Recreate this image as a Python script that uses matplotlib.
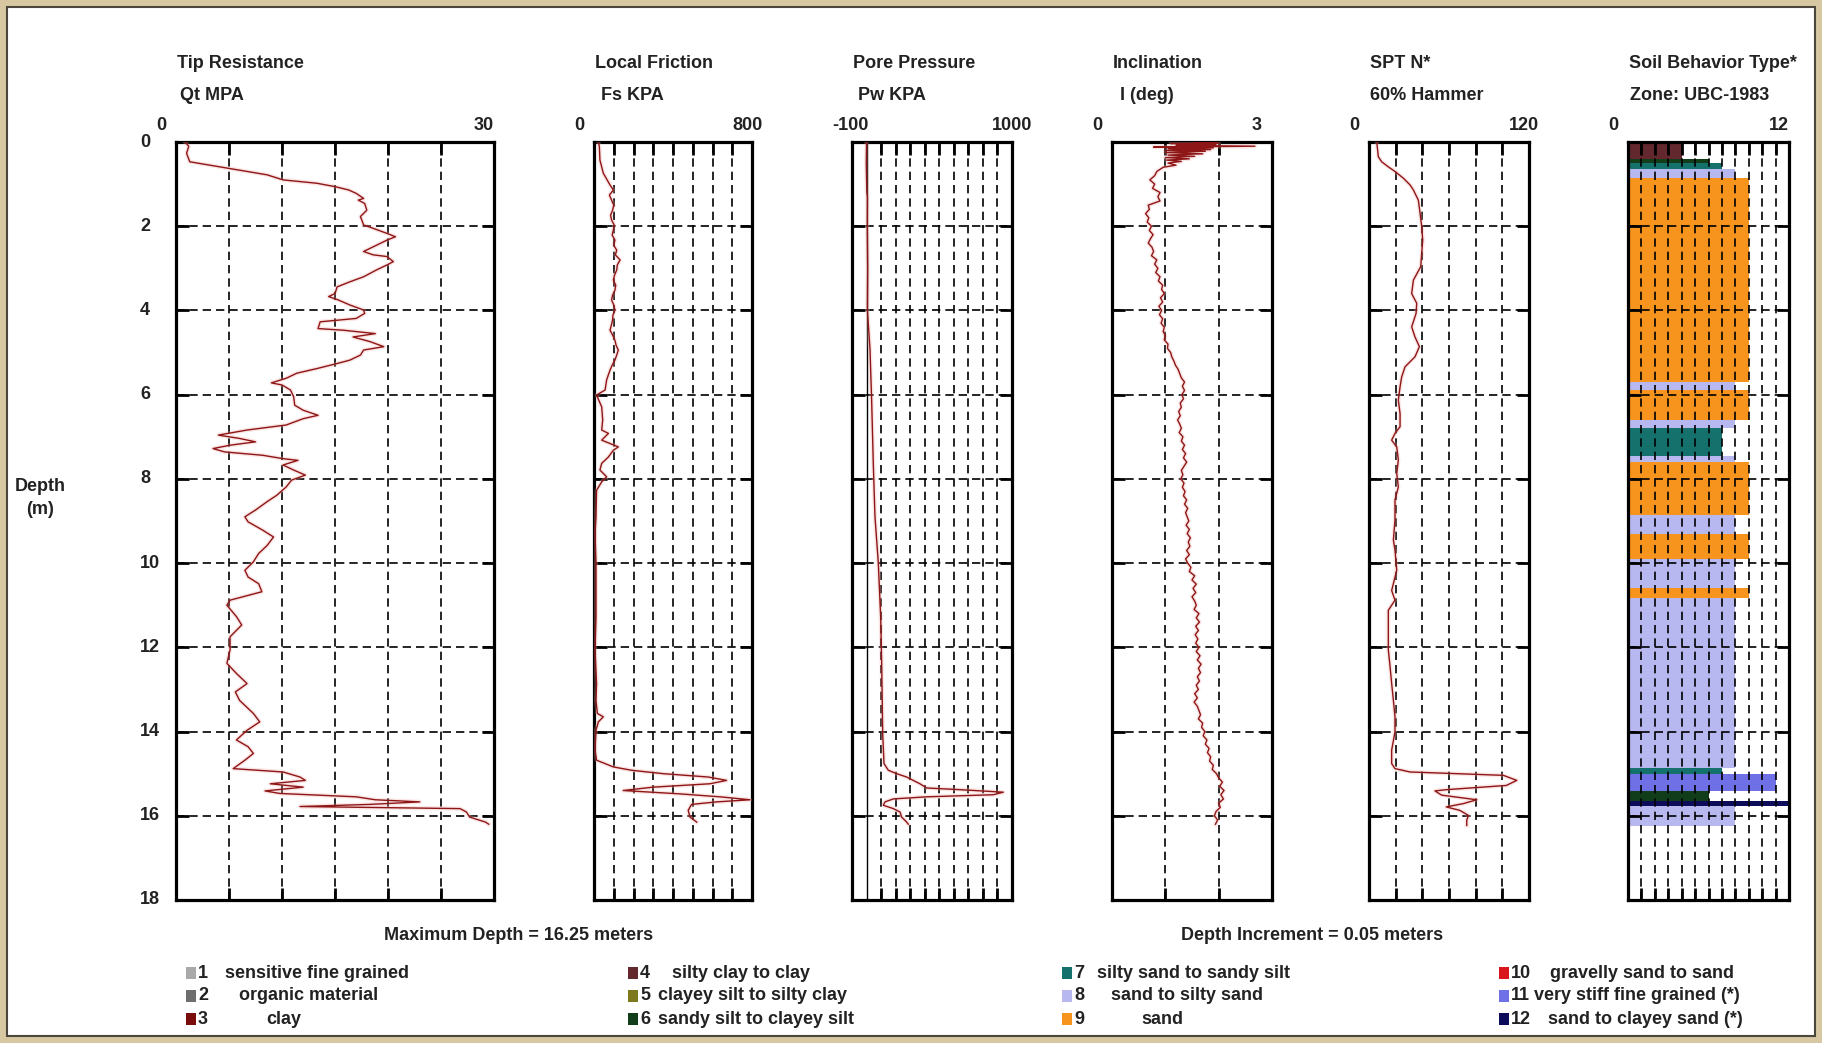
import matplotlib.pyplot as plt
from matplotlib.patches import Rectangle
from matplotlib.transforms import offset_copy

plt.rcParams['font.family'] = ['Liberation Sans', 'DejaVu Sans']
plt.rcParams['font.weight'] = 'bold'

# ---- CPT sounding data (depth in m) ----
qt_depth = [0.0, 0.1, 0.27, 0.47, 0.55, 0.63, 0.7, 0.78, 0.9, 0.98,
            1.06, 1.14, 1.22, 1.34, 1.38, 1.46, 1.62, 1.77, 1.97, 2.05,
            2.17, 2.25, 2.33, 2.49, 2.6, 2.68, 2.72, 2.84, 2.92, 3.04,
            3.2, 3.32, 3.44, 3.6, 3.67, 3.75, 3.87, 3.99, 4.07, 4.19,
            4.27, 4.43, 4.47, 4.55, 4.63, 4.74, 4.86, 4.94, 5.06, 5.18,
            5.26, 5.38, 5.49, 5.61, 5.72, 5.77, 5.89, 6.05, 6.25, 6.37,
            6.49, 6.57, 6.72, 6.84, 6.96, 7.04, 7.12, 7.2, 7.28, 7.36,
            7.44, 7.52, 7.56, 7.67, 7.79, 7.91, 8.03, 8.19, 8.39, 8.54,
            8.74, 8.9, 9.02, 9.22, 9.38, 9.58, 9.77, 9.97, 10.17, 10.33,
            10.49, 10.68, 10.88, 11.0, 11.27, 11.47, 11.75, 12.06, 12.38, 12.62,
            12.86, 13.06, 13.26, 13.57, 13.77, 13.97, 14.2, 14.36, 14.52, 14.68,
            14.88, 14.96, 15.08, 15.16, 15.24, 15.32, 15.41, 15.47, 15.55, 15.62,
            15.67, 15.73, 15.78, 15.83, 15.91, 16.03, 16.15, 16.2]
qt = [0.85, 1.2, 1.0, 1.3, 3.2, 5.1, 6.7, 8.6, 10.1, 13.3,
      15.0, 16.3, 17.0, 17.7, 17.2, 17.8, 18.0, 17.4, 17.7, 18.6,
      19.9, 20.7, 19.9, 18.6, 17.7, 18.6, 19.9, 20.5, 19.9, 18.9,
      17.7, 16.4, 15.2, 15.0, 14.4, 15.3, 16.4, 17.7, 17.8, 17.0,
      13.6, 13.4, 15.8, 18.8, 16.7, 18.3, 19.6, 17.7, 17.4, 16.4,
      15.2, 13.3, 11.4, 10.4, 9.0, 10.0, 10.8, 11.1, 11.2, 12.0,
      13.4, 12.0, 10.4, 6.7, 4.0, 6.0, 7.5, 5.1, 3.5, 4.6,
      8.2, 10.1, 11.5, 10.1, 11.1, 12.2, 10.9, 10.4, 9.5, 8.6,
      7.5, 6.5, 6.8, 8.2, 9.2, 8.6, 7.8, 7.3, 6.5, 6.8,
      7.8, 8.1, 5.1, 4.8, 5.7, 6.2, 5.1, 5.1, 4.8, 5.7,
      6.7, 5.6, 6.0, 7.3, 7.9, 6.7, 5.7, 6.8, 7.3, 6.5,
      5.4, 10.1, 11.7, 12.2, 8.9, 12.0, 8.4, 9.8, 17.0, 18.8,
      23.0, 18.3, 11.7, 26.8, 27.4, 27.7, 29.2, 29.5]

fs_depth = [0.0, 0.1, 0.43, 0.74, 1.02, 1.14, 1.26, 1.38, 1.5, 1.62,
            1.74, 1.85, 1.97, 2.09, 2.21, 2.33, 2.45, 2.57, 2.68, 2.8,
            2.92, 3.04, 3.16, 3.28, 3.4, 3.52, 3.64, 3.75, 3.87, 3.99,
            4.11, 4.23, 4.35, 4.47, 4.59, 4.71, 4.83, 4.94, 5.06, 5.18,
            5.3, 5.42, 5.54, 5.65, 5.77, 5.89, 6.01, 6.29, 6.6, 6.84,
            6.92, 7.08, 7.24, 7.32, 7.48, 7.63, 7.79, 7.95, 8.07, 8.27,
            8.9, 9.3, 10.0, 10.48, 11.27, 12.06, 12.86, 13.26, 13.57, 13.65,
            13.77, 13.97, 14.44, 14.68, 14.84, 14.92, 15.0, 15.08, 15.16, 15.24,
            15.32, 15.4, 15.48, 15.55, 15.62, 15.67, 15.73, 15.87, 16.03, 16.15]
fs = [22, 27, 30, 47, 81, 98, 78, 89, 100, 94,
      84, 89, 102, 98, 92, 106, 100, 115, 108, 132,
      118, 115, 104, 98, 110, 106, 94, 89, 100, 106,
      96, 94, 88, 81, 95, 106, 112, 123, 115, 106,
      92, 81, 72, 64, 60, 56, 13, 39, 44, 39,
      73, 39, 123, 98, 73, 39, 30, 64, 39, 13,
      10, 5, 10, 10, 10, 5, 13, 10, 17, 47,
      22, 10, 5, 13, 98, 191, 351, 579, 671, 587,
      300, 148, 435, 638, 790, 621, 494, 477, 486, 520]

u_depth = [0.0, 0.5, 1.2, 1.3, 2.0, 3.0, 4.0, 4.94, 6.13, 7.71,
           8.9, 10.0, 11.27, 12.38, 14.05, 14.76, 14.92, 15.0, 15.08, 15.16,
           15.24, 15.34, 15.38, 15.44, 15.5, 15.55, 15.6, 15.67, 15.75, 15.83,
           15.91, 16.03, 16.15, 16.2]
u = [0, -2, 2, 6, 5, 8, 6, 24, 35, 47,
     58, 81, 97, 104, 111, 120, 150, 207, 276, 321,
     367, 413, 642, 940, 871, 413, 184, 127, 115, 184,
     230, 241, 276, 287]

incl_depth = [0.0, 0.02, 0.04, 0.06, 0.08, 0.1, 0.12, 0.14, 0.16, 0.18,
              0.2, 0.22, 0.25, 0.28, 0.31, 0.34, 0.37, 0.4, 0.43, 0.46,
              0.5, 0.55, 0.6, 0.7, 0.8, 0.9, 1.0, 1.1, 1.2, 1.3,
              1.4, 1.5, 1.6, 1.7, 1.8, 1.9, 2.0, 2.1, 2.2, 2.3,
              2.4, 2.5, 2.6, 2.7, 2.8, 2.9, 3.0, 3.1, 3.2, 3.3,
              3.4, 3.5, 3.6, 3.7, 3.8, 3.9, 4.0, 4.1, 4.2, 4.3,
              4.4, 4.5, 4.6, 4.7, 4.8, 4.9, 5.0, 5.1, 5.2, 5.3,
              5.4, 5.5, 5.6, 5.7, 5.8, 5.9, 6.0, 6.1, 6.2, 6.3,
              6.4, 6.5, 6.6, 6.7, 6.8, 6.9, 7.0, 7.1, 7.2, 7.3,
              7.4, 7.5, 7.6, 7.7, 7.8, 7.9, 8.0, 8.1, 8.2, 8.3,
              8.4, 8.5, 8.6, 8.7, 8.8, 8.9, 9.0, 9.1, 9.2, 9.3,
              9.4, 9.5, 9.6, 9.7, 9.8, 9.9, 10.0, 10.1, 10.2, 10.3,
              10.4, 10.5, 10.6, 10.7, 10.8, 10.9, 11.0, 11.1, 11.2, 11.3,
              11.4, 11.5, 11.6, 11.7, 11.8, 11.9, 12.0, 12.1, 12.2, 12.3,
              12.4, 12.5, 12.6, 12.7, 12.8, 12.9, 13.0, 13.1, 13.2, 13.3,
              13.4, 13.5, 13.6, 13.7, 13.8, 13.9, 14.0, 14.1, 14.2, 14.3,
              14.4, 14.5, 14.6, 14.7, 14.8, 14.9, 15.0, 15.1, 15.2, 15.3,
              15.4, 15.5, 15.6, 15.7, 15.8, 15.9, 16.0, 16.1, 16.2]
incl = [1.55, 2.0, 1.1, 1.95, 1.2, 2.68, 0.78, 1.9, 1.05, 1.85,
        1.0, 1.75, 1.0, 1.7, 1.05, 1.55, 1.0, 1.45, 1.02, 1.3,
        1.05, 1.2, 0.96, 0.84, 0.8, 0.71, 0.8, 0.76, 0.9, 0.86,
        0.9, 0.68, 0.7, 0.63, 0.69, 0.66, 0.74, 0.7, 0.77, 0.72,
        0.68, 0.75, 0.78, 0.74, 0.84, 0.8, 0.86, 0.82, 0.9, 0.87,
        0.95, 0.93, 0.98, 0.91, 0.95, 0.88, 0.93, 0.89, 0.95, 0.92,
        0.98, 0.96, 1.0, 0.98, 1.05, 1.04, 1.1, 1.12, 1.16, 1.19,
        1.24, 1.27, 1.3, 1.36, 1.32, 1.36, 1.31, 1.34, 1.28, 1.3,
        1.25, 1.28, 1.23, 1.27, 1.3, 1.26, 1.33, 1.3, 1.36, 1.32,
        1.38, 1.34, 1.4, 1.35, 1.3, 1.33, 1.29, 1.35, 1.32, 1.37,
        1.34, 1.4, 1.36, 1.42, 1.38, 1.41, 1.44, 1.39, 1.45, 1.41,
        1.47, 1.43, 1.46, 1.4, 1.45, 1.38, 1.42, 1.48, 1.45, 1.55,
        1.5, 1.58, 1.52, 1.57, 1.5, 1.55, 1.58, 1.54, 1.63, 1.58,
        1.64, 1.57, 1.62, 1.56, 1.61, 1.57, 1.63, 1.58, 1.65, 1.6,
        1.67, 1.62, 1.66, 1.6, 1.64, 1.58, 1.62, 1.55, 1.6, 1.54,
        1.6, 1.63, 1.66, 1.62, 1.7, 1.68, 1.74, 1.71, 1.78, 1.75,
        1.82, 1.79, 1.85, 1.83, 1.9, 1.88, 1.96, 2.0, 2.07, 2.02,
        2.1, 2.04, 2.09, 2.0, 2.03, 1.95, 1.92, 1.98, 1.94]

spt_depth = [0.0, 0.35, 0.47, 0.59, 0.7, 0.86, 1.02, 1.14, 1.38, 1.69,
             2.0, 2.33, 2.65, 2.96, 3.28, 3.6, 3.83, 4.07, 4.39, 4.63,
             4.86, 5.1, 5.34, 5.58, 5.81, 6.13, 6.45, 6.76, 6.92, 7.08,
             7.24, 7.55, 7.87, 8.19, 8.5, 8.98, 9.45, 9.69, 10.17, 10.65,
             10.88, 11.12, 11.67, 12.06, 12.46, 12.86, 13.26, 13.65, 14.01, 14.44,
             14.76, 14.88, 14.96, 15.04, 15.16, 15.28, 15.38, 15.41, 15.51, 15.62,
             15.71, 15.79, 15.87, 15.99, 16.11, 16.23]
spt = [5.8, 7, 9.5, 14.5, 19.5, 25.8, 30.8, 33.3, 37, 38.3,
       39.5, 40.3, 39.5, 38.8, 33.3, 32, 35.8, 35.3, 32, 34.5,
       37.8, 34.5, 27, 24.5, 23.3, 22, 23.3, 23.3, 19.5, 17,
       20.8, 22, 20.8, 22, 19.5, 19.5, 18.3, 19.5, 20.8, 17,
       19.5, 14.5, 14.5, 14.5, 15.8, 17, 18.3, 19.5, 19.5, 17,
       17, 19.5, 30.8, 100.8, 110.8, 103, 58, 49.5, 54.5, 80.8,
       70.8, 58, 68, 74.5, 73.3, 73.3]

# soil behaviour type layers (top, base, zone)
sbt_top = [0.0, 0.4, 0.5, 0.65, 0.85, 5.7, 5.9, 6.6, 6.8, 7.45, 7.6,
           8.85, 9.3, 9.9, 10.6, 10.83, 14.87, 15.0, 15.4, 15.65, 15.77]
sbt_base = [0.4, 0.5, 0.65, 0.85, 5.7, 5.9, 6.6, 6.8, 7.45, 7.6, 8.85,
            9.3, 9.9, 10.6, 10.83, 14.87, 15.0, 15.4, 15.65, 15.77, 16.25]
sbt_zone = [4, 6, 7, 8, 9, 8, 9, 8, 7, 8, 9,
            8, 9, 8, 9, 8, 7, 11, 6, 12, 8]

zone_names = ['sensitive fine grained', 'organic material', 'clay',
              'silty clay to clay', 'clayey silt to silty clay', 'sandy silt to clayey silt',
              'silty sand to sandy silt', 'sand to silty sand', 'sand',
              'gravelly sand to sand', 'very stiff fine grained (*)', 'sand to clayey sand (*)']
zone_colors = ['#a9a9a9', '#6e6e6e', '#7a0c0c', '#62282e', '#7d7a1e', '#123d1a',
               '#15716c', '#b8b8f0', '#f7941d', '#d8141c', '#6f6fe6', '#0c0c5a']

W, H = 1822, 1043
TOP, BOT = 142, 900
INK = '#222222'
LINE = '#8e1616'
FS = 13

fig = plt.figure(figsize=(W / 100, H / 100), dpi=100)
fig.patch.set_facecolor('#d8c8a2')
fig.patches.append(Rectangle((7 / W, 7 / H), 1808 / W, 1029 / H, transform=fig.transFigure,
                             facecolor='white', edgecolor='#4a463c', lw=1.5, zorder=-10))


def panel(left, width, xlim, xticks, title, subtitle, sub_dx):
    ax = fig.add_axes([left / W, 1 - BOT / H, width / W, (BOT - TOP) / H])
    ax.set_xlim(*xlim)
    ax.set_ylim(18, 0)
    ax.set_xticks(xticks)
    ax.set_yticks(range(2, 18, 2))
    ax.tick_params(direction='in', length=9, width=2, top=True, right=True,
                   labelbottom=False, labelleft=False, color='black')
    ax.grid(True, color='black', lw=1.2, ls=(0, (5, 3)))
    for s in ax.spines.values():
        s.set_linewidth(2.3)
    lab = offset_copy(ax.transAxes, fig=fig, x=-20, y=17, units='dots')
    ax.text(0, 1, f'{xlim[0]}', transform=lab, ha='left', va='center', fontsize=FS, color=INK)
    ax.text(1, 1, f'{xlim[1]}', transform=lab, ha='left', va='center', fontsize=FS, color=INK)
    t1 = offset_copy(ax.transAxes, fig=fig, x=1, y=79, units='dots')
    ax.text(0, 1, title, transform=t1, ha='left', va='center', fontsize=FS, color=INK)
    t2 = offset_copy(ax.transAxes, fig=fig, x=sub_dx, y=47, units='dots')
    ax.text(0, 1, subtitle, transform=t2, ha='left', va='center', fontsize=FS, color=INK)
    return ax


def trace(ax, x, d):
    ax.plot(x, d, color='#f0a8a8', lw=3, alpha=0.3, zorder=3)
    ax.plot(x, d, color=LINE, lw=1.0, zorder=4)


ax1 = panel(176, 318, (0, 30), [5, 10, 15, 20, 25], 'Tip Resistance', 'Qt MPA', 4)
trace(ax1, qt, qt_depth)
dlab = offset_copy(ax1.get_yaxis_transform(), fig=fig, x=-36, units='dots')
for d in range(0, 20, 2):
    ax1.text(0, d, str(d), transform=dlab, ha='left', va='center', fontsize=FS, color=INK)

ax2 = panel(594, 158, (0, 800), list(range(100, 800, 100)), 'Local Friction', 'Fs KPA', 7)
trace(ax2, fs, fs_depth)

ax3 = panel(852, 160, (-100, 1000), list(range(100, 1000, 100)), 'Pore Pressure', 'Pw KPA', 6)
ax3.axvline(0, color='black', lw=1.0, zorder=2)
trace(ax3, u, u_depth)

ax4 = panel(1112, 160, (0, 3), [1, 2], 'Inclination', 'I (deg)', 8)
trace(ax4, incl, incl_depth)

ax5 = panel(1369, 160, (0, 120), [20, 40, 60, 80, 100], 'SPT N*', '60% Hammer', 1)
trace(ax5, spt, spt_depth)

ax6 = panel(1628, 161, (0, 12), list(range(1, 12)), 'Soil Behavior Type*', 'Zone: UBC-1983', 2)
ax6.set_axisbelow(False)
ax6.barh(sbt_top, sbt_zone, height=[b - t for t, b in zip(sbt_top, sbt_base)],
         left=0, align='edge', color=[zone_colors[z - 1] for z in sbt_zone], zorder=1)

fig.text(40 / W, 1 - 498 / H, 'Depth\n(m)', ha='center', va='center', fontsize=FS,
         color=INK, linespacing=1.5)
fig.text(519 / W, 1 - 936 / H, 'Maximum Depth = 16.25 meters', ha='center', va='center',
         fontsize=FS, color=INK)
fig.text(1312 / W, 1 - 936 / H, 'Depth Increment = 0.05 meters', ha='center', va='center',
         fontsize=FS, color=INK)

# legend of soil zones: four columns of three
sq_x = [186, 628, 1062, 1499]
name_x = [225, 239, 266, 672, 658, 658, 1097, 1111, 1141, 1550, 1534, 1548]
row_y = [973, 996, 1019]
for i, (name, col) in enumerate(zip(zone_names, zone_colors)):
    c, r = divmod(i, 3)
    y = row_y[r]
    fig.patches.append(Rectangle((sq_x[c] / W, 1 - (y + 6) / H), 10 / W, 12 / H,
                                 transform=fig.transFigure, facecolor=col, edgecolor='none'))
    fig.text((sq_x[c] + 12) / W, 1 - y / H, str(i + 1), ha='left', va='center',
             fontsize=FS, color=INK)
    fig.text(name_x[i] / W, 1 - y / H, name, ha='left', va='center', fontsize=FS, color=INK)

fig.savefig('out.png', dpi=100, facecolor=fig.get_facecolor())
